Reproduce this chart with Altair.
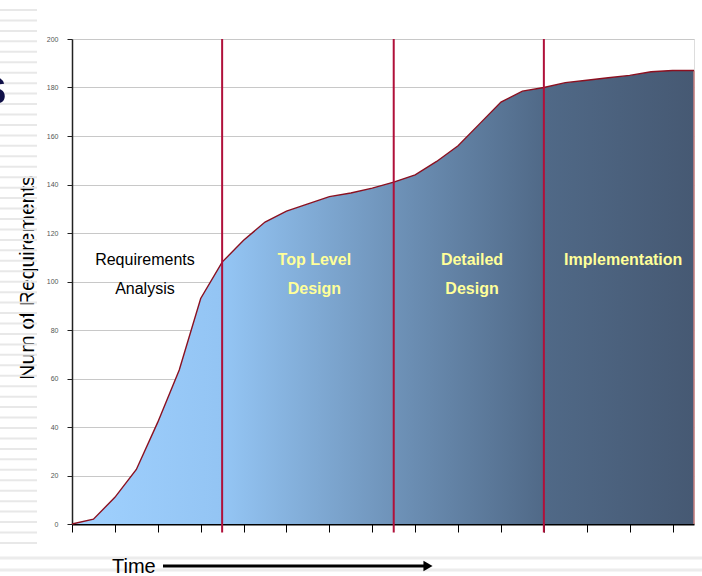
import altair as alt
import pandas as pd

# ---- data ----
time_steps = list(range(30))
requirements = [0, 2, 11, 22.5, 42, 63.5, 93, 108, 117, 124.5,
                129, 132, 135, 136.5, 138.5, 141, 144, 149.5, 156, 165,
                174, 178.5, 180, 182, 183, 184, 185, 186.5, 187, 187]
phase_boundaries = [7, 15, 22]
label_lines = ["Requirements", "Analysis", "Top Level", "Design",
               "Detailed", "Design", "Implementation"]
label_x = [3.4, 3.4, 11.3, 11.3, 18.65, 18.65, 25.7]
label_y = [108.9, 96.9, 108.9, 96.9, 108.9, 96.9, 108.9]
label_kind = ["dark", "dark", "light", "light", "light", "light", "light"]
y_ticks = [0, 20, 40, 60, 80, 100, 120, 140, 160, 180, 200]

df = pd.DataFrame({"t": time_steps, "n": requirements})
df_phase = pd.DataFrame({"t": phase_boundaries})
df_lab = pd.DataFrame({"txt": label_lines, "x": label_x, "y": label_y, "kind": label_kind})

W, H = 622, 485
FONT = "Liberation Sans"

xs = alt.Scale(domain=[0, 29], nice=False, zero=False)
ys = alt.Scale(domain=[0, 200], nice=False)

base = alt.Chart(df)

area = base.mark_area(
    color=alt.Gradient(
        gradient="linear",
        stops=[
            alt.GradientStop(color="#a0d1ff", offset=0),
            alt.GradientStop(color="#93c4f3", offset=0.25),
            alt.GradientStop(color="#6e92b8", offset=0.52),
            alt.GradientStop(color="#506987", offset=0.76),
            alt.GradientStop(color="#465973", offset=1),
        ],
        x1=0, x2=1, y1=0, y2=0,
    ),
    opacity=1,
).encode(
    x=alt.X("t:Q", scale=xs,
            axis=alt.Axis(values=time_steps, labels=False, title=None, grid=False,
                          domainColor="#000000", domainWidth=2, tickColor="#000000",
                          tickSize=8, tickWidth=1)),
    y=alt.Y("n:Q", scale=ys,
            axis=alt.Axis(values=y_ticks, grid=True, gridColor="#c8c8c8", gridWidth=1,
                          domainColor="#222222", domainWidth=1.5, tickColor="#222222",
                          tickSize=5, labelFont=FONT, labelFontSize=7, labelColor="#555555",
                          labelPadding=9,
                          title="Num of Requirements", titleFont=FONT, titleFontSize=21,
                          titleFontWeight="normal", titleColor="#000000",
                          titleX=-39, titleY=238, titleAngle=-90,
                          titleBaseline="alphabetic")),
)

line = base.mark_line(color="#8b1020", strokeWidth=1.4).encode(
    x=alt.X("t:Q", scale=xs), y=alt.Y("n:Q", scale=ys)
)

right_edge = alt.Chart(df.tail(1)).mark_rule(color="#c98080", strokeWidth=1.5).encode(
    x=alt.X("t:Q", scale=xs), y=alt.Y("n:Q", scale=ys), y2=alt.datum(0)
)

phase_rules = alt.Chart(df_phase).mark_rule(color="#b0103a", strokeWidth=2).encode(
    x=alt.X("t:Q", scale=xs), y=alt.datum(200), y2=alt.datum(-3.5)
)

labels_dark = alt.Chart(df_lab[df_lab.kind == "dark"]).mark_text(
    font=FONT, fontSize=16, color="#000000", baseline="middle", align="center"
).encode(x=alt.X("x:Q", scale=xs), y=alt.Y("y:Q", scale=ys), text="txt:N")

labels_light = alt.Chart(df_lab[df_lab.kind == "light"]).mark_text(
    font=FONT, fontSize=16, fontWeight="bold", color="#ffff99", baseline="middle", align="center"
).encode(x=alt.X("x:Q", scale=xs), y=alt.Y("y:Q", scale=ys), text="txt:N")

# ---- slide decorations (pixel positions, identity scales) ----
stripe_y = [10 + 10.45 * i for i in range(52)]
df_stripes = pd.DataFrame({"y": [v - 39 for v in stripe_y]})
left_stripes = alt.Chart(df_stripes).mark_rule(color="#e8e8e8", strokeWidth=2).encode(
    x=alt.value(-72), x2=alt.value(-35), y=alt.Y("y:Q", scale=None, axis=None)
)

bottom_stripes = alt.Chart(pd.DataFrame({"y": [519, 531]})).mark_rule(
    color="#ececec", strokeWidth=3
).encode(x=alt.value(-72), x2=alt.value(630), y=alt.Y("y:Q", scale=None, axis=None))

time_text = alt.Chart(pd.DataFrame({"t": ["Time"]})).mark_text(
    font=FONT, fontSize=20, color="#000000", align="left", baseline="middle"
).encode(x=alt.value(40), y=alt.value(528), text="t:N")

arrow_line = alt.Chart(pd.DataFrame({"a": [0]})).mark_rule(color="#000000", strokeWidth=3).encode(
    x=alt.value(91), x2=alt.value(354), y=alt.value(527)
)
arrow_head = alt.Chart(pd.DataFrame({"a": [0]})).mark_point(
    shape="triangle-right", filled=True, color="#000000", size=110, opacity=1
).encode(x=alt.value(356), y=alt.value(527))

s_glyph = alt.Chart(pd.DataFrame({"s": ["s"]})).mark_text(
    font=FONT, fontSize=52, fontWeight="bold", color="#101048", align="right", baseline="alphabetic"
).encode(x=alt.value(-65), y=alt.value(65), text="s:N")

chart = alt.layer(
    left_stripes, bottom_stripes, area, right_edge, line, phase_rules,
    labels_dark, labels_light, time_text, arrow_line, arrow_head, s_glyph
).properties(
    width=W, height=H,
    autosize=alt.AutoSizeParams(type="none"),
    padding={"left": 72, "top": 39, "right": 8, "bottom": 52},
).configure_view(stroke=None).configure(background="#ffffff")

chart.save("out.html", embed_options={"renderer": "svg", "actions": False})
